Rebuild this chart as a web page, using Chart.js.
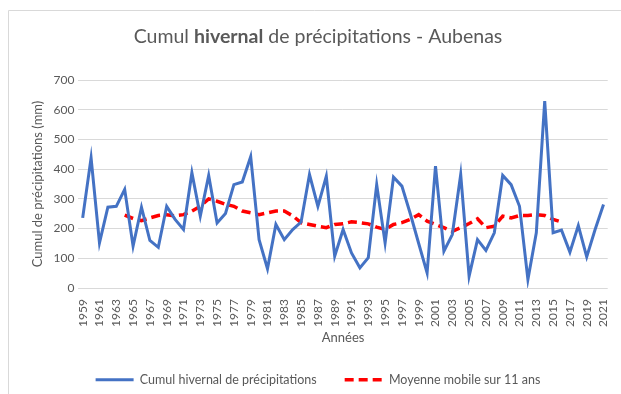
<!DOCTYPE html>
<html lang="fr">
<head>
<meta charset="utf-8">
<title>Cumul hivernal de précipitations - Aubenas</title>
<script src="https://cdn.jsdelivr.net/npm/chart.js@4.4.1/dist/chart.umd.min.js"></script>
<style>
  html, body { margin: 0; padding: 0; background: #fff; }
  #wrap { position: relative; width: 621px; height: 394px; }
</style>
</head>
<body>
<div id="wrap"><canvas id="rainChart" width="621" height="394"></canvas></div>
<script>
// Years of record
const years = [];
for (let y = 1959; y <= 2021; y++) years.push(String(y));

// Winter cumulative rainfall (mm), 1959 -> 2021
const winterRain = [
  236, 438, 152, 272, 275, 332, 141, 272, 160, 137,
  275, 231, 197, 388, 242, 379, 219, 251, 348, 357,
  442, 163, 65, 214, 163, 197, 222, 382, 275, 376,
  107, 197, 118, 68, 102, 348, 152, 373, 343, 250,
  150, 51, 410, 124, 180, 382, 40, 163, 127, 186,
  379, 348, 275, 29, 186, 629, 186, 195, 121, 210,
  105, 197, 281
];

// 11-year centred moving average (1964 -> 2016), null where undefined
const movingAvg = [
  null, null, null, null, null,
  245, 234, 227, 236, 244, 247, 243, 247, 259, 275,
  300, 292, 282, 275, 259, 253, 247, 253, 259, 259,
  243, 220, 214, 208, 203, 214, 216, 223, 220, 216,
  205, 197, 214, 220, 231, 247, 225, 214, 203, 191,
  203, 217, 233, 203, 208, 242, 236, 244, 244, 247,
  244, 231, 222,
  null, null, null, null, null
];

const yTicks = [0, 100, 200, 300, 400, 500, 600, 700];

const FONT = 'Lato, "Open Sans", sans-serif';
const GREY = '#595959';

// Excel-style frame and title with a bold word in the middle
const frameAndTitle = {
  id: 'frameAndTitle',
  beforeDraw(chart) {
    const ctx = chart.ctx;
    ctx.save();
    ctx.strokeStyle = '#d9d9d9';
    ctx.lineWidth = 1;
    ctx.beginPath();
    ctx.moveTo(8.5, 394);
    ctx.lineTo(8.5, 10.5);
    ctx.lineTo(621, 10.5);
    ctx.stroke();
    ctx.restore();
  },
  afterDraw(chart) {
    const ctx = chart.ctx;
    const parts = [
      { text: 'Cumul ', bold: false },
      { text: 'hivernal', bold: true },
      { text: ' de précipitations - Aubenas', bold: false }
    ];
    ctx.save();
    ctx.fillStyle = GREY;
    ctx.textBaseline = 'middle';
    let total = 0;
    parts.forEach(p => {
      ctx.font = (p.bold ? 'bold ' : '') + '19.5px ' + FONT;
      p.w = ctx.measureText(p.text).width;
      total += p.w;
    });
    let x = 318 - total / 2;
    parts.forEach(p => {
      ctx.font = (p.bold ? 'bold ' : '') + '19.5px ' + FONT;
      ctx.fillText(p.text, x, 37);
      x += p.w;
    });
    ctx.restore();
  }
};

// Legend samples take the dataset line style (width, dash)
function legendLabels(chart) {
  const items = Chart.defaults.plugins.legend.labels.generateLabels(chart);
  items.forEach(item => {
    const ds = chart.data.datasets[item.datasetIndex];
    item.lineDash = ds.borderDash || [];
    item.lineWidth = ds.borderWidth;
    item.strokeStyle = ds.borderColor;
  });
  return items;
}

new Chart(document.getElementById('rainChart'), {
  type: 'line',
  data: {
    labels: years,
    datasets: [
      {
        label: 'Cumul hivernal de précipitations',
        data: winterRain,
        borderColor: '#4472C4',
        backgroundColor: '#4472C4',
        borderWidth: 3,
        pointRadius: 0,
        tension: 0
      },
      {
        label: 'Moyenne mobile sur 11 ans',
        data: movingAvg,
        borderColor: '#FF0000',
        backgroundColor: '#FF0000',
        borderWidth: 3.5,
        borderDash: [9, 5],
        pointRadius: 0,
        tension: 0,
        spanGaps: false
      }
    ]
  },
  options: {
    responsive: false,
    animation: false,
    layout: { padding: { top: 80, left: 26, right: 11, bottom: -2 } },
    plugins: {
      legend: {
        position: 'bottom',
        labels: {
          usePointStyle: true,
          pointStyle: 'line',
          pointStyleWidth: 38,
          boxHeight: 12,
          padding: 28,
          color: GREY,
          font: { family: FONT, size: 12.5 },
          generateLabels: legendLabels
        }
      },
      tooltip: { enabled: false }
    },
    scales: {
      x: {
        offset: true,
        grid: { display: false },
        border: { display: false },
        ticks: {
          autoSkip: false,
          minRotation: 90,
          maxRotation: 90,
          color: GREY,
          font: { family: FONT, size: 12 },
          callback: function (val, idx) {
            return idx % 2 === 0 ? this.getLabelForValue(val) : null;
          }
        },
        title: {
          display: true,
          text: 'Années',
          color: GREY,
          padding: { top: 0, bottom: 0 },
          font: { family: FONT, size: 13 }
        }
      },
      y: {
        min: 0,
        max: 700,
        afterBuildTicks: axis => { axis.ticks = yTicks.map(v => ({ value: v })); },
        grid: { color: '#d9d9d9', drawTicks: false },
        border: { display: false },
        ticks: {
          padding: 4,
          color: GREY,
          font: { family: FONT, size: 12 }
        },
        title: {
          display: true,
          text: 'Cumul de précipitations (mm)',
          color: GREY,
          font: { family: FONT, size: 13 }
        }
      }
    }
  },
  plugins: [frameAndTitle]
});
</script>
</body>
</html>
